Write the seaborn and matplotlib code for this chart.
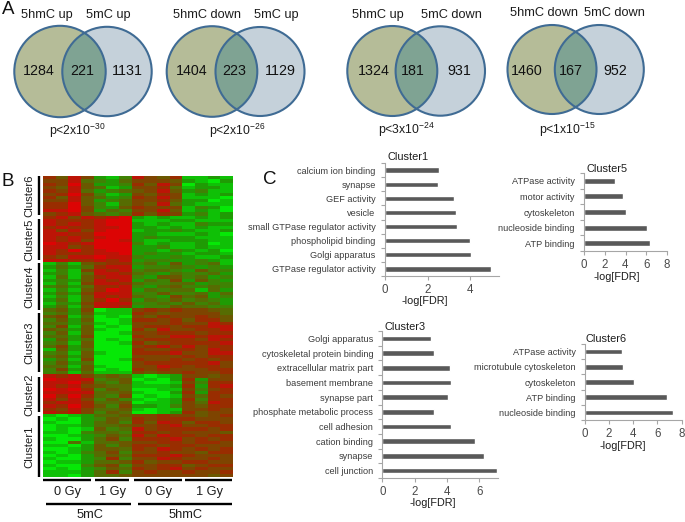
import numpy as np
import pandas as pd
import matplotlib
matplotlib.use("Agg")
import matplotlib.pyplot as plt
from matplotlib.colors import LinearSegmentedColormap
from matplotlib.patches import Circle
import seaborn as sns

sns.set_theme(style="white")
plt.rcParams["font.family"] = ["Liberation Sans", "DejaVu Sans"]
plt.rcParams["mathtext.default"] = "regular"

W, H = 685, 522

# ---- panel A data
venn_left_names = ["5hmC up", "5hmC down", "5hmC up", "5hmC down"]
venn_right_names = ["5mC up", "5mC up", "5mC down", "5mC down"]
venn_left_only = [1284, 1404, 1324, 1460]
venn_both = [221, 223, 181, 167]
venn_right_only = [1131, 1129, 931, 952]
venn_p = ["p<2x10$^{-30}$", "p<2x10$^{-26}$", "p<3x10$^{-24}$", "p<1x10$^{-15}$"]

# ---- panel B data: methylation level read by eye, 0 = green ... 9 = red
cluster_names = ["Cluster6", "Cluster5", "Cluster4", "Cluster3", "Cluster2", "Cluster1"]
cluster6 = ["7586 213 8657 1121", "6684 324 6665 2102", "7695 223 7586 0211", "6585 412 6674 1221",
            "7684 234 5685 2311", "6796 312 6576 1212", "7585 423 7686 1110", "6685 234 6675 2201",
            "7795 314 6584 2111", "7796 325 7666 1320", "8896 243 6685 1210", "6785 434 7576 2312"]
cluster5 = ["7868 789 2121 1212", "8777 899 1112 2111", "8787 899 2121 1322", "7877 889 2212 1211",
            "8686 899 1223 2112", "8877 999 2211 1210", "8787 899 2322 2111", "8786 998 2112 2211",
            "9878 999 3121 1201", "8867 999 2231 1211", "8797 899 2213 2120", "8777 889 2322 1221",
            "7688 988 3223 2112", "8877 878 2332 2321"]
cluster4 = ["1315 677 3425 2341", "2424 788 2334 3232", "1316 878 3443 2533", "2314 887 4324 3342",
            "1415 788 3255 3423", "2325 878 2436 2532", "1316 887 4334 4233", "3424 778 3245 3343",
            "1315 798 2434 4142", "2426 888 3353 3424", "1315 878 4326 4523", "2415 797 2435 3432",
            "1326 888 3343 5342", "2415 887 2335 4433"]
cluster3 = ["4526 011 6767 6654", "3425 111 7656 6664", "5614 010 6576 6765", "3525 001 7767 5775",
            "4424 101 6667 6687", "3615 010 6776 7788", "5425 100 7586 6778", "3515 001 6677 7677",
            "4426 000 7668 8788", "2524 010 6777 7687", "3415 001 7567 7778", "4625 000 6786 8677",
            "1524 000 7667 7687", "3415 100 7778 6688", "4525 000 6666 7677", "2416 001 7667 6767",
            "3524 000 6777 7786", "4415 100 6687 6776", "3625 010 7676 6677", "3414 111 6566 7667"]
cluster2 = ["8786 454 1012 6656", "9888 345 0102 7266", "8897 435 1001 6377", "8786 544 1112 7278",
            "9897 354 0011 6367", "8888 445 1002 7277", "9797 436 0101 6476", "8686 353 1012 7377",
            "7887 445 0112 6487", "8797 536 2213 6577", "7686 445 1011 6676", "8786 354 0012 7566"]
cluster1 = ["1012 445 6676 6567", "0102 354 7677 7666", "1002 453 7587 5776", "0112 445 6678 6677",
            "0101 534 8677 7767", "1103 443 7767 6665", "0012 354 8687 7677", "1002 463 7778 6767",
            "0041 445 6677 6776", "1102 535 7767 7666", "0012 554 7687 6767", "1013 463 6676 6577",
            "0102 454 7778 7666", "1002 373 6687 6676", "0112 445 7566 7766", "1003 563 6677 5677",
            "0102 354 7678 6766", "1112 473 6766 7667", "1102 445 6666 6656"]
heat_rows = cluster6 + cluster5 + cluster4 + cluster3 + cluster2 + cluster1
heat_colors = ["#06e806", "#0fc006", "#1f9a04", "#3f8204", "#566c02",
               "#6a5800", "#7e4400", "#982e00", "#bc1406", "#dc0404"]

# ---- panel C data
c1_terms = ["calcium ion binding", "synapse", "GEF activity", "vesicle", "small GTPase regulator activity",
            "phospholipid binding", "Golgi apparatus", "GTPase regulator activity"]
c1_values = [2.53, 2.5, 3.25, 3.32, 3.4, 4.0, 4.03, 4.98]
c5_terms = ["ATPase activity", "motor activity", "cytoskeleton", "nucleoside binding", "ATP binding"]
c5_values = [3.0, 3.75, 4.05, 6.1, 6.37]
c3_terms = ["Golgi apparatus", "cytoskeletal protein binding", "extracellular matrix part", "basement membrane",
            "synapse part", "phosphate metabolic process", "cell adhesion", "cation binding", "synapse", "cell junction"]
c3_values = [3.0, 3.2, 4.2, 4.22, 4.05, 3.2, 4.22, 5.75, 6.3, 7.1]
c6_terms = ["ATPase activity", "microtubule cytoskeleton", "cytoskeleton", "ATP binding", "nucleoside binding"]
c6_values = [3.05, 3.15, 4.1, 6.75, 7.3]

fig = plt.figure(figsize=(W / 100, H / 100), dpi=100, facecolor="white")


def px_axes(l, t, r, b, **kw):
    return fig.add_axes([l / W, 1 - b / H, (r - l) / W, (b - t) / H], **kw)


# overlay in pixel units, for annotations
ov = px_axes(0, 0, W, H, zorder=5)
ov.set_xlim(0, W)
ov.set_ylim(H, 0)
ov.axis("off")
ov.patch.set_alpha(0)

TXT = "#1c1c1c"
for xy, s in zip([(8, 10), (8, 182), (270, 180)], "ABC"):
    ov.text(*xy, s, fontsize=13.5, color="#111111", ha="center", va="center")

# ---- panel A
venn_geom = [  # layout: left cx, right cx, cy, left r, right r
    (60, 107, 71.5, 45.7, 44.7), (212, 260, 71.5, 45.3, 44.5),
    (392.3, 440.3, 71, 45, 44.7), (552, 599.3, 69.5, 44.5, 44.5)]
head_x = [(47, 108, 15), (207, 276, 15), (378, 451, 15), (544, 614, 13)]
num_x = [(39, 82, 127), (192, 234, 280), (374, 413, 459), (527, 571, 615)]
p_x = [(49, 131), (209, 131), (378, 130), (539, 130)]
EDGE = "#3f6b94"
for i in range(4):
    lx, rx, cy, lr, rr = venn_geom[i]
    ov.add_patch(Circle((lx, cy), lr, fc="#b5bc98", ec="none", zorder=1))
    ov.add_patch(Circle((rx, cy), rr, fc="#c5d1da", ec="none", zorder=1))
    clip = Circle((lx, cy), lr, transform=ov.transData)
    inner = Circle((rx, cy), rr, fc="#7fa393", ec="none", zorder=2)
    ov.add_patch(inner)
    inner.set_clip_path(clip)
    ov.add_patch(Circle((lx, cy), lr, fc="none", ec=EDGE, lw=1.5, zorder=3))
    ov.add_patch(Circle((rx, cy), rr, fc="none", ec=EDGE, lw=1.5, zorder=3))
    ov.text(head_x[i][0], head_x[i][2], venn_left_names[i], fontsize=9.2, color=TXT, ha="center", va="center")
    ov.text(head_x[i][1], head_x[i][2], venn_right_names[i], fontsize=9.2, color=TXT, ha="center", va="center")
    for x, v in zip(num_x[i], (venn_left_only[i], venn_both[i], venn_right_only[i])):
        ov.text(x, 71, str(v), fontsize=10.3, color="#111111", ha="center", va="center", zorder=4)
    ov.text(p_x[i][0], p_x[i][1], venn_p[i], fontsize=8.8, color=TXT, ha="left", va="center")

# ---- panel B
matrix = np.array([[int(c) for c in row.replace(" ", "")] for row in heat_rows], dtype=float)
frame = pd.DataFrame(matrix)
cmap = LinearSegmentedColormap.from_list("gr", heat_colors)
hax = px_axes(43, 176, 233, 477)
sns.heatmap(frame, ax=hax, cmap=cmap, vmin=0, vmax=9, cbar=False, xticklabels=False, yticklabels=False)

cluster_spans = [(176, 215), (219, 260), (263, 310), (313, 372), (377, 412), (416, 477)]
for name, (t, b) in zip(cluster_names, cluster_spans):
    ov.plot([39, 39], [t, b], color="black", lw=1.7, solid_capstyle="butt")
    ov.text(29.5, (t + b) / 2, name, rotation=90, fontsize=8.2, color=TXT, ha="center", va="center")
for (a, b), s in zip([(43, 91), (95, 129), (134, 182), (185, 232)], ["0 Gy", "1 Gy", "0 Gy", "1 Gy"]):
    ov.plot([a, b], [480, 480], color="black", lw=1.7, solid_capstyle="butt")
    ov.text((a + b) / 2 + 1, 492, s, fontsize=9.2, color=TXT, ha="center", va="center")
for (a, b), s in zip([(46, 131), (138, 232)], ["5mC", "5hmC"]):
    ov.plot([a, b], [504, 504], color="black", lw=1.7, solid_capstyle="butt")
    ov.text((a + b) / 2 + 1, 515, s, fontsize=9.2, color=TXT, ha="center", va="center")


# ---- panel C
def bar_panel(terms, values, title, box, xmax, xticks, title_xy, label_xy):
    l, t, r, b = box
    ax = px_axes(l, t, r, b)
    ax.patch.set_alpha(0)
    df = pd.DataFrame({"term": terms, "value": values})
    sns.barplot(data=df, x="value", y="term", ax=ax, color="#595959", saturation=1, width=0.38, orient="h")
    ax.set_xlim(0, xmax)
    ax.set_xticks(xticks)
    n = len(terms)
    ax.set_yticks(np.arange(n + 1) - 0.5, minor=True)
    ax.tick_params(axis="y", which="minor", left=True, length=3, width=0.8, color="#a6a6a6")
    ax.tick_params(axis="y", which="major", left=False, length=0, pad=6.5, labelsize=6.6, labelcolor="#3c3c3c")
    ax.tick_params(axis="x", which="major", bottom=True, length=3, width=0.8, color="#a6a6a6",
                   pad=2.5, labelsize=8.3, labelcolor="#4a4a4a")
    sns.despine(ax=ax)
    for s in ("left", "bottom"):
        ax.spines[s].set_color("#a6a6a6")
        ax.spines[s].set_linewidth(0.8)
    ax.set_ylabel("")
    ax.set_xlabel("-log[FDR]", fontsize=7.8, color=TXT)
    ax.xaxis.set_label_coords(label_xy[0], label_xy[1], transform=ov.transData)
    ax.xaxis.label.set_va("center")
    ax.set_title("")
    ov.text(title_xy[0], title_xy[1], title, fontsize=7.9, color=TXT, ha="left", va="center")


bar_panel(c1_terms, c1_values, "Cluster1", (384.7, 163, 499, 276), 5.34, [0, 2, 4], (388, 157), (425, 301))
bar_panel(c5_terms, c5_values, "Cluster5", (584, 173, 667, 251), 8, [0, 2, 4, 6, 8], (587, 169), (617, 277))
bar_panel(c3_terms, c3_values, "Cluster3", (382.3, 331, 498, 478), 7.15, [0, 2, 4, 6], (385, 327), (433, 503))
bar_panel(c6_terms, c6_values, "Cluster6", (584.7, 344, 681.7, 420), 8, [0, 2, 4, 6, 8], (586, 339), (623, 446))

fig.savefig("out.png", dpi=100, facecolor="white")
